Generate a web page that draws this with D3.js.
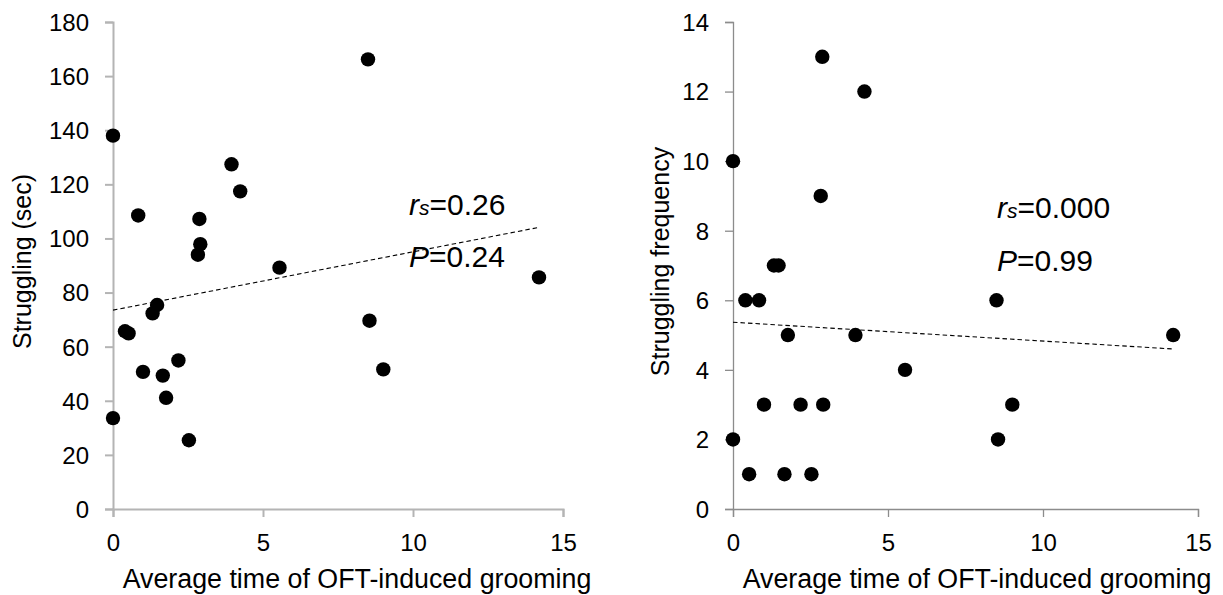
<!DOCTYPE html>
<html>
<head>
<meta charset="utf-8">
<script src="https://cdn.jsdelivr.net/npm/d3@7"></script>
<style>
  html, body { margin: 0; padding: 0; background: #fff; }
  svg { display: block; font-family: "Liberation Sans", Arial, sans-serif; }
</style>
</head>
<body>
<svg id="chart" width="1223" height="595"></svg>
<script>
// ---- data ----
const groomingTime = [0, 0, 0.4, 0.52, 0.84, 1.0, 1.32, 1.47, 1.66, 1.77, 2.18, 2.53, 2.83, 2.88, 2.91, 3.95, 4.24, 5.55, 8.5, 8.55, 9.01, 14.2];
const strugglingSec = [138, 33.6, 65.7, 64.9, 108.5, 50.7, 72.3, 75.4, 49.3, 41.1, 54.9, 25.4, 94, 107.2, 97.9, 127.4, 117.4, 89.2, 166.2, 69.6, 51.6, 85.6];
const strugglingFreq = [10, 2, 6, 1, 6, 3, 7, 7, 1, 5, 3, 1, 9, 13, 3, 5, 12, 4, 6, 2, 3, 5];
const trendSecX = [0, 14.2];
const trendSecY = [73.5, 104.1];
const trendFreqX = [0, 14.2];
const trendFreqY = [5.37, 4.6];
const xTicks = [0, 5, 10, 15];
const ySecTicks = [0, 20, 40, 60, 80, 100, 120, 140, 160, 180];
const yFreqTicks = [0, 2, 4, 6, 8, 10, 12, 14];
const xTitle = "Average time of OFT-induced grooming";
const ySecTitle = "Struggling (sec)";
const yFreqTitle = "Struggling frequency";
const statsSec = ["0.26", "0.24"];
const statsFreq = ["0.000", "0.99"];

const svg = d3.select("#chart");

function panel(opt) {
  const g = svg.append("g");
  const x = d3.scaleLinear().domain([0, 15]).range([opt.left, opt.right]);
  const y = d3.scaleLinear().domain([0, opt.ymax]).range([509, 22]);

  const xa = g.append("g").attr("transform", "translate(0,509)")
    .call(d3.axisBottom(x).tickValues(xTicks).tickSize(8).tickPadding(17).tickFormat(d3.format("d")));
  const ya = g.append("g").attr("transform", `translate(${opt.left},0)`)
    .call(d3.axisLeft(y).tickValues(opt.yTicks).tickSize(8).tickPadding(16).tickFormat(d3.format("d")));
  [xa, ya].forEach(a => {
    a.select(".domain").attr("stroke", opt.axisColor).attr("stroke-width", opt.axisWidth);
    a.selectAll(".tick line").attr("stroke", opt.axisColor).attr("stroke-width", opt.axisWidth);
    a.selectAll(".tick text").attr("fill", "#000").style("font-size", "24px")
      .style("font-family", '"Liberation Sans", Arial, sans-serif');
  });
  ya.selectAll(".tick text").attr("dy", "0.35em");
  xa.selectAll(".tick text").attr("dy", "0.71em");

  // trend line
  const tl = opt.tx.map((v, i) => [v, opt.ty[i]]);
  g.append("path").datum(tl)
    .attr("d", d3.line().x(d => x(d[0])).y(d => y(d[1])))
    .attr("fill", "none").attr("stroke", "#000").attr("stroke-width", 1.1)
    .attr("stroke-dasharray", "4.5,3");

  // points
  g.append("g").selectAll("circle").data(groomingTime.map((v, i) => [v, opt.ys[i]]))
    .join("circle")
    .attr("cx", d => x(d[0])).attr("cy", d => y(d[1])).attr("r", 7.2).attr("fill", "#000");

  // axis titles
  g.append("text").attr("x", opt.left + 244).attr("y", 588)
    .attr("text-anchor", "middle").style("font-size", "26.8px").text(xTitle);
  g.append("text").attr("transform", `translate(${opt.ytx},${(22 + 509) / 2 - 4}) rotate(-90)`)
    .attr("text-anchor", "middle").attr("dy", "0.35em").style("font-size", "25px").text(opt.ytitle);

  // stats
  const t1 = g.append("text").attr("x", opt.sx).attr("y", opt.sy1).style("font-size", "30px");
  t1.append("tspan").style("font-style", "italic").text("r");
  t1.append("tspan").style("font-style", "italic").style("font-size", "21px").text("s");
  t1.append("tspan").text("=" + opt.stats[0]);
  const t2 = g.append("text").attr("x", opt.sx).attr("y", opt.sy2).style("font-size", "30px");
  t2.append("tspan").style("font-style", "italic").text("P");
  t2.append("tspan").text("=" + opt.stats[1]);
}

panel({ left: 113, right: 563, ymax: 180, yTicks: ySecTicks, ys: strugglingSec,
  tx: trendSecX, ty: trendSecY, ytitle: ySecTitle, ytx: 22, stats: statsSec,
  sx: 409, sy1: 215, sy2: 267, axisColor: "#b4b4b4", axisWidth: 2 });
panel({ left: 733, right: 1198, ymax: 14, yTicks: yFreqTicks, ys: strugglingFreq,
  tx: trendFreqX, ty: trendFreqY, ytitle: yFreqTitle, ytx: 660, stats: statsFreq,
  sx: 997, sy1: 218, sy2: 271, axisColor: "#8c8c8c", axisWidth: 1.3 });
</script>
</body>
</html>
